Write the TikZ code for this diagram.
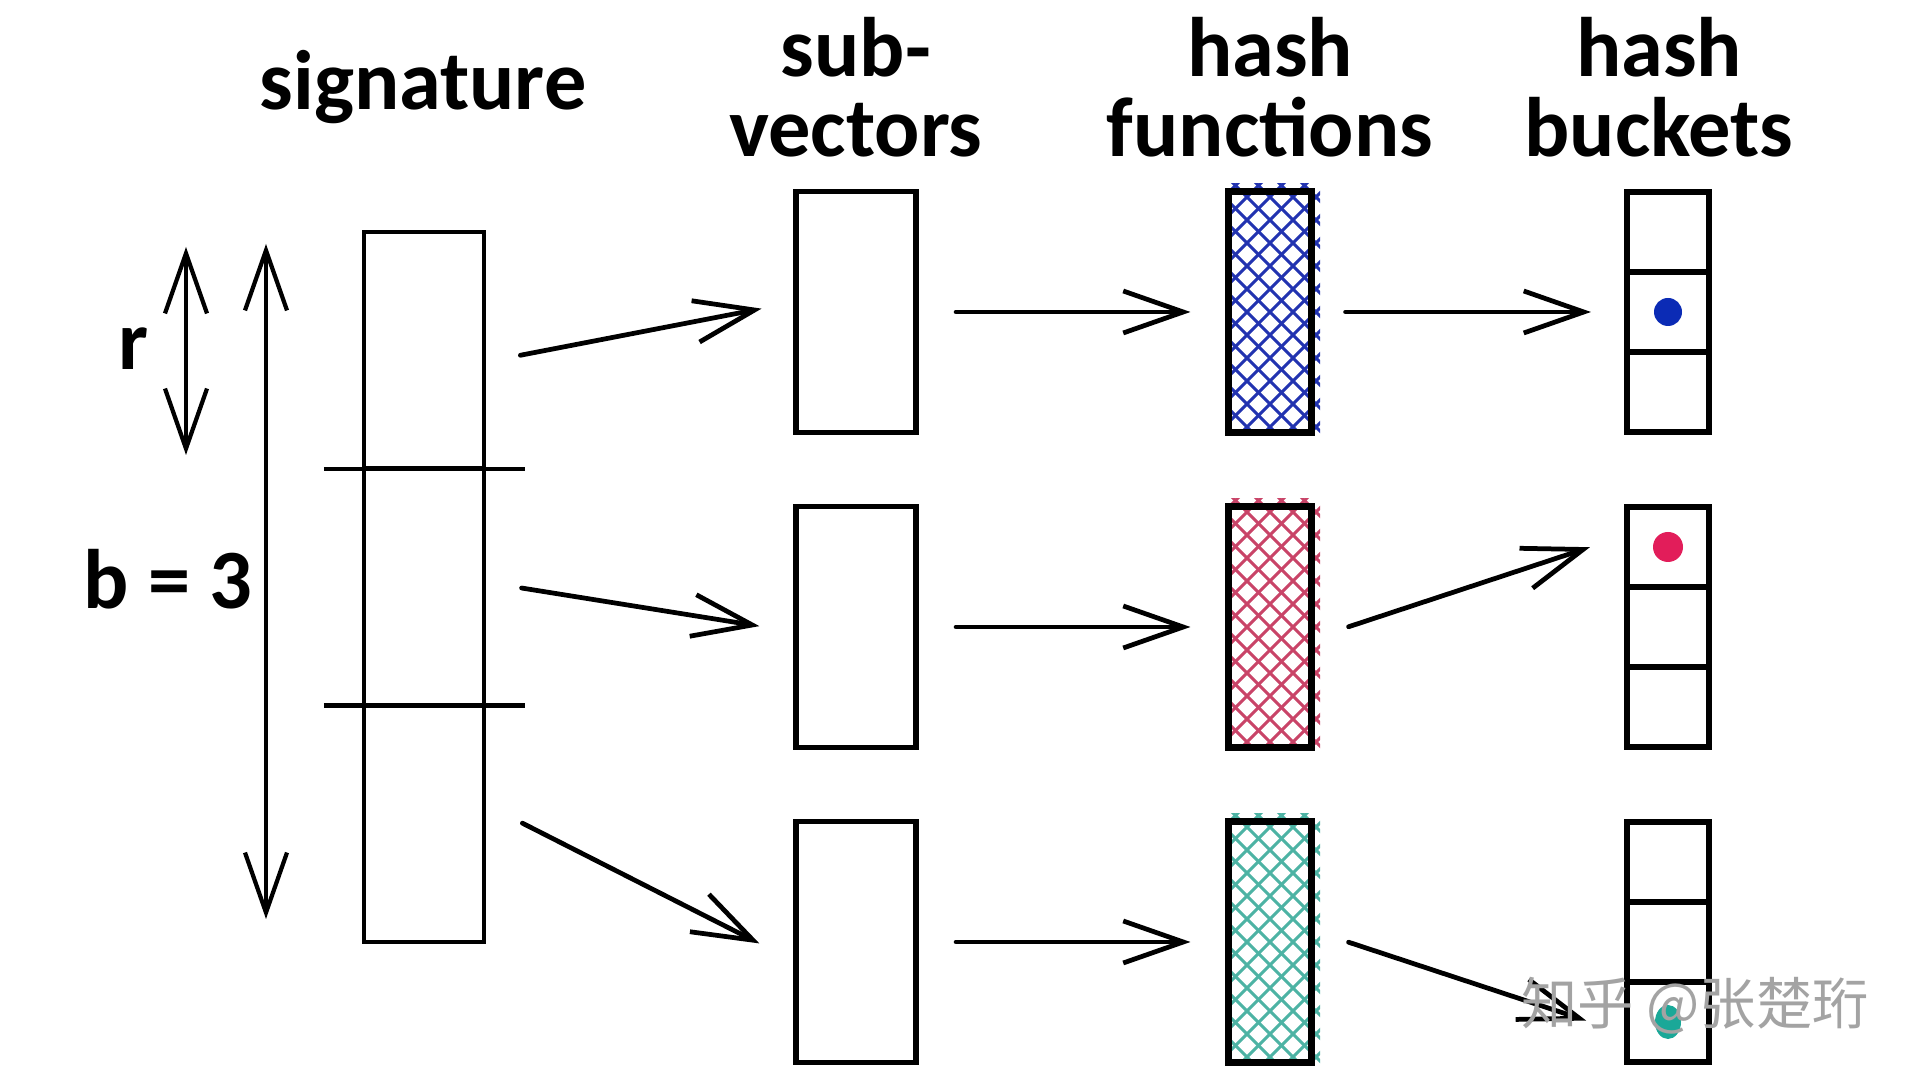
\documentclass[tikz,border=0pt]{standalone}
\usepackage{fontspec}
\setmainfont{Carlito}
\newfontfamily\cjkfont{Noto Sans CJK SC}
\usepackage{tikz}
\usetikzlibrary{positioning,arrows.meta,calc}
\definecolor{HashBlue}{HTML}{2233B0}
\definecolor{HashRed}{HTML}{C94468}
\definecolor{HashTeal}{HTML}{4DB3A4}
\definecolor{DotBlue}{HTML}{0B2BB5}
\definecolor{DotRed}{HTML}{E21D5A}
\definecolor{DotTeal}{HTML}{1AA898}
\definecolor{MarkGray}{HTML}{A3A3A3}

\begin{document}
\begin{tikzpicture}[x=0.01cm, y=-0.01cm,
  heading/.style={font=\fontsize{24}{23}\selectfont\bfseries, align=center, inner sep=0pt},
  sig part/.style={draw, line width=1.2pt, minimum width=1.2cm, minimum height=2.3667cm, inner sep=0pt, outer sep=0pt},
  sub box/.style={draw, line width=1.45pt, minimum width=1.2cm, minimum height=2.4cm, inner sep=0pt, outer sep=0pt},
  hash box/.style={draw, line width=2pt, minimum width=0.83cm, minimum height=2.4cm, inner sep=0pt, outer sep=0pt},
  slot/.style={draw, line width=1.7pt, minimum width=0.82cm, minimum height=0.8cm, inner sep=0pt, outer sep=0pt},
  flow/.style={line width=1.35pt, line cap=round, -{Straight Barb[length=0.6cm, width=0.42cm]}},
  span/.style={line width=1.2pt, line cap=round, {Straight Barb[length=0.6cm, width=0.42cm]}-{Straight Barb[length=0.6cm, width=0.42cm]}},
  hatch/.style={line width=0.85pt}]
  \fill[white] (0,0) rectangle (1920,1080);
  \useasboundingbox (0,0) rectangle (1920,1080);

  % Column titles
  \node[heading, anchor=base] (tsig) at (423,110) {signature};
  \node[heading, anchor=base] (tsub) at (856,157) {sub-\\vectors};
  \node[heading, anchor=base] (tfun) at (1270,157) {hash\\functions};
  \node[heading, anchor=base] (tbkt) at (1659,157) {hash\\buckets};

  % Signature split into b bands of r rows
  \foreach \i/\y in {1/350.3, 2/587, 3/823.7} {\node[sig part] (sig\i) at (424,\y) {};}
  \foreach \i in {1,2} {\draw[line width=1.2pt] ($(sig\i.south west)+(-40,0)$) -- ($(sig\i.south east)+(41,0)$);}

  % r and b spans
  \coordinate (rtop) at (186,247);
  \coordinate (rbot) at (186,455);
  \coordinate (btop) at (266,244);
  \coordinate (bbot) at (266,919);
  \draw[span] (rtop) -- (rbot);
  \draw[span] (btop) -- (bbot);
  \node[heading, anchor=base] (rlab) at (133,370) {r};
  \node[heading, anchor=base] (blab) at (168,609) {b = 3};

  % Sub-vectors
  \foreach \i/\y in {1/312, 2/627, 3/942} {\node[sub box] (sub\i) at (856,\y) {};}

  % Hash functions, cross-hatched
  \foreach \i/\y/\c in {1/312/HashBlue, 2/627/HashRed, 3/942/HashTeal} {
    \begin{scope}
      \clip (1225,\y-128) rectangle (1320,\y+124);
      \foreach \d in {-230,-207,...,230} {
        \draw[hatch, \c] (1270+\d-200,\y-200) -- ++(400,400);
        \draw[hatch, \c] (1270+\d-200,\y+200) -- ++(400,-400);
      }
    \end{scope}
    \node[hash box] (hash\i) at (1270,\y) {};
  }

  % Hash buckets
  \foreach \i/\y in {1/312, 2/627, 3/942} {
    \node[slot] (bkt\i-1) at (1668,\y-80) {};
    \node[slot] (bkt\i-2) at (1668,\y) {};
    \node[slot] (bkt\i-3) at (1668,\y+80) {};
  }
  \fill[DotBlue] (bkt1-2.center) circle (0.14cm);
  \fill[DotRed] (bkt2-1.center) circle (0.15cm);
  \fill[DotTeal] (bkt3-3.center) ellipse (0.13cm and 0.17cm);

  % Arrows
  \draw[flow, shorten <=0.37cm, shorten >=0.35cm] ($(sig1.east)+(0,12)$) -- ($(sub1.west)+(0,-10)$);
  \draw[flow, shorten <=0.38cm, shorten >=0.37cm] ($(sig2.east)+(0,-5)$) -- ($(sub2.west)+(0,5)$);
  \draw[flow, shorten <=0.43cm, shorten >=0.41cm] ($(sig3.east)+(0,-20)$) -- ($(sub3.west)+(0,20)$);
  \foreach \i in {1,2,3} {\draw[flow, shorten <=0.4cm, shorten >=0.38cm] (sub\i.east) -- (hash\i.west);}
  \draw[flow, shorten <=0.34cm, shorten >=0.36cm] (hash1.east) -- (bkt1-2.west);
  \draw[flow, shorten <=0.39cm, shorten >=0.39cm] ($(hash2.east)+(0,12)$) -- ($(bkt2-1.west)+(0,-12)$);
  \draw[flow, shorten <=0.39cm, shorten >=0.43cm] ($(hash3.east)+(0,-12)$) -- ($(bkt3-3.west)+(0,12)$);

  % Watermark
  \node[font=\cjkfont\fontsize{16}{16}\selectfont, text=MarkGray, anchor=base] (mark) at (1695,1025) {知乎 @张楚珩};
\end{tikzpicture}
\end{document}
